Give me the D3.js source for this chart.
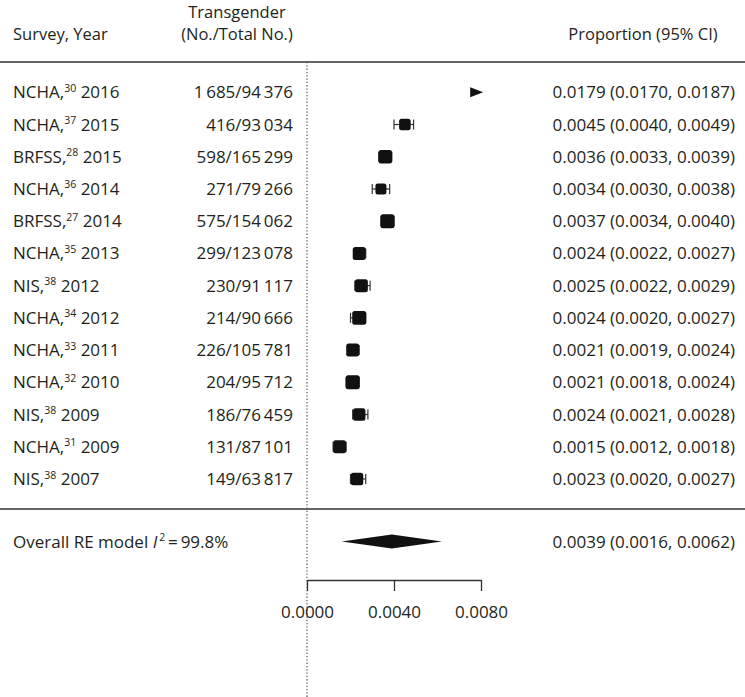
<!DOCTYPE html>
<html><head><meta charset="utf-8">
<script src="https://cdn.jsdelivr.net/npm/d3@7"></script>
<style>
html,body{margin:0;padding:0;background:#fff;}
svg text{font-family:"Open Sans","Noto Sans",sans-serif;fill:#231f20;}
</style></head>
<body><svg id="c" width="745" height="697"></svg>
<script>
const surveys = ["NCHA","NCHA","BRFSS","NCHA","BRFSS","NCHA","NIS","NCHA","NCHA","NCHA","NIS","NCHA","NIS"];
const refs = [30,37,28,36,27,35,38,34,33,32,38,31,38];
const years = [2016,2015,2015,2014,2014,2013,2012,2012,2011,2010,2009,2009,2007];
const cases = [1685,416,598,271,575,299,230,214,226,204,186,131,149];
const totals = [94376,93034,165299,79266,154062,123078,91117,90666,105781,95712,76459,87101,63817];
const prop = [0.0179,0.0045,0.0036,0.0034,0.0037,0.0024,0.0025,0.0024,0.0021,0.0021,0.0024,0.0015,0.0023];
const lower = [0.0170,0.0040,0.0033,0.0030,0.0034,0.0022,0.0022,0.0020,0.0019,0.0018,0.0021,0.0012,0.0020];
const upper = [0.0187,0.0049,0.0039,0.0038,0.0040,0.0027,0.0029,0.0027,0.0024,0.0024,0.0028,0.0018,0.0027];
const weights = [7.80,7.62,7.77,7.58,7.81,7.73,7.73,7.81,7.73,7.81,7.69,7.73,7.69];
const overallEst = 0.0039, overallLo = 0.0016, overallHi = 0.0062, overallI2 = 99.8;
const tickValues = [0, 0.004, 0.008];
const axisMax = 0.0081;

const svg = d3.select("#c");
const FS = 17;
const HFS = 16.5;
const SUP = 10.5;
const x = d3.scaleLinear().domain([0, 0.008]).range([307, 481]);
const y = d3.scaleLinear().domain([0, surveys.length - 1]).range([92.3, 479]);
const size = d3.scaleLinear().domain([7.5, 7.85]).range([10, 14.5]);
const fmtN = n => d3.format(",")(n).replace(/,/g, "\u2009");
const fmtP = v => d3.format(".4f")(v);
const ink = "#231f20";

// header
svg.append("text").attr("x", 13).attr("y", 39.5).attr("font-size", HFS).text("Survey, Year");
svg.append("text").attr("x", 237).attr("y", 17.5).attr("text-anchor", "middle").attr("font-size", HFS).text("Transgender");
svg.append("text").attr("x", 237).attr("y", 40).attr("text-anchor", "middle").attr("font-size", HFS).text("(No./Total No.)");
svg.append("text").attr("x", 643).attr("y", 39.5).attr("text-anchor", "middle").attr("font-size", HFS).text("Proportion (95% CI)");

svg.append("line").attr("x1", 0).attr("x2", 745).attr("y1", 62).attr("y2", 62).attr("stroke", "#333").attr("stroke-width", 1.5);
svg.append("line").attr("x1", 0).attr("x2", 745).attr("y1", 509).attr("y2", 509).attr("stroke", "#333").attr("stroke-width", 1.5);

// reference dotted line at 0
svg.append("line").attr("x1", x(0)).attr("x2", x(0)).attr("y1", 62).attr("y2", 697)
  .attr("stroke", "#444").attr("stroke-width", 1.1).attr("stroke-dasharray", "1.3,2");

const idx = d3.range(surveys.length);
const rows = svg.selectAll("g.row").data(idx).join("g").attr("class", "row");

// left labels
rows.append("text").attr("x", 13).attr("y", i => y(i) + 6).attr("font-size", FS)
  .each(function(i) {
    const t = d3.select(this);
    t.append("tspan").text(surveys[i] + ",");
    t.append("tspan").attr("font-size", SUP).attr("dy", -6.5).text(refs[i]);
    t.append("tspan").attr("dy", 6.5).text("\u00a0" + years[i]);
  });
rows.append("text").attr("x", 293).attr("y", i => y(i) + 6).attr("font-size", FS).attr("text-anchor", "end")
  .text(i => fmtN(cases[i]) + "/" + fmtN(totals[i]));
rows.append("text").attr("x", 735).attr("y", i => y(i) + 6).attr("font-size", FS).attr("text-anchor", "end")
  .text(i => `${fmtP(prop[i])} (${fmtP(lower[i])}, ${fmtP(upper[i])})`);

// markers
idx.forEach(i => {
  const yy = y(i);
  if (prop[i] > axisMax) {
    const tip = x(axisMax);
    svg.append("path").attr("d", `M${tip},${yy} L${tip - 13},${yy - 5} L${tip - 13},${yy + 5} Z`).attr("fill", "#111");
    return;
  }
  const g = svg.append("g");
  const l = x(lower[i]), u = x(upper[i]);
  g.append("line").attr("x1", l).attr("x2", u).attr("y1", yy).attr("y2", yy).attr("stroke", "#333").attr("stroke-width", 1.2);
  [l, u].forEach(v => g.append("line").attr("x1", v).attr("x2", v).attr("y1", yy - 5).attr("y2", yy + 5).attr("stroke", "#333").attr("stroke-width", 1.2));
  const s = size(weights[i]);
  g.append("rect").attr("x", x(prop[i]) - s / 2).attr("y", yy - s / 2).attr("width", s).attr("height", s)
    .attr("rx", 2.5).attr("fill", "#111");
});

// overall
const oy = 541.5;
svg.append("text").attr("x", 13).attr("y", oy + 6).attr("font-size", FS)
  .each(function() {
    const t = d3.select(this);
    t.append("tspan").text("Overall RE model ");
    t.append("tspan").attr("font-style", "italic").text("I");
    t.append("tspan").attr("font-size", SUP).attr("dx", 2).attr("dy", -6.5).text("2");
    t.append("tspan").attr("dy", 6.5).text("\u2009=\u2009" + overallI2 + "%");
  });
svg.append("text").attr("x", 735).attr("y", oy + 6).attr("font-size", FS).attr("text-anchor", "end")
  .text(`${fmtP(overallEst)} (${fmtP(overallLo)}, ${fmtP(overallHi)})`);
svg.append("path")
  .attr("d", `M${x(overallLo)},${oy} L${x(overallEst)},${oy - 7} L${x(overallHi)},${oy} L${x(overallEst)},${oy + 7} Z`)
  .attr("fill", "#111");

// axis
const axis = d3.axisBottom(x).tickValues(tickValues).tickFormat(d3.format(".4f")).tickSize(11).tickSizeOuter(0).tickPadding(15);
const ag = svg.append("g").attr("transform", "translate(0,580)").call(axis);
ag.select(".domain").attr("stroke", "#333").attr("stroke-width", 1.3);
ag.selectAll(".tick line").attr("stroke", "#333").attr("stroke-width", 1.3).attr("y1", 0);
ag.selectAll(".tick text").attr("font-size", FS).attr("fill", ink).attr("font-family", "'Open Sans','Noto Sans',sans-serif");
</script></body></html>
